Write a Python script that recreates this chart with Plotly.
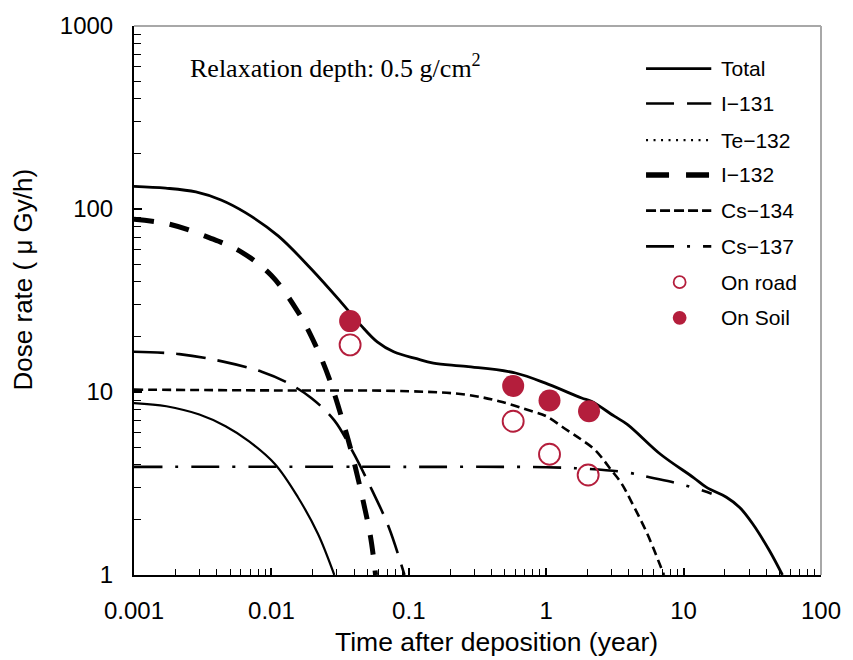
import plotly.graph_objects as go

# ---------------- data ----------------
total_x = [0.001, 0.0017, 0.00282, 0.0043, 0.00647, 0.0112, 0.0195, 0.0321, 0.0447, 0.0589, 0.0776,
           0.114, 0.151, 0.261, 0.598, 1.04, 1.81, 2.13, 3.13, 3.91, 6.79, 11.8, 14.7, 20.5, 25.6,
           31.9, 42.1, 52.4]
total_y = [133, 130, 124, 112, 95.5, 71.3, 47, 31, 23.2, 18.8, 16.6,
           15.2, 14.4, 13.8, 12.7, 11.0, 9.27, 8.9, 7.38, 6.64, 4.57, 3.41, 3.01, 2.66, 2.34,
           1.90, 1.36, 1.0]

i131_x = [0.001, 0.00214, 0.00438, 0.0085, 0.0132, 0.0195, 0.0287, 0.0389, 0.0542, 0.0714, 0.093]
i131_y = [16.6, 16.1, 14.7, 12.9, 11.2, 9.27, 7.0, 4.75, 2.89, 1.83, 1.0]

te132_x = [0.001, 0.00172, 0.00299, 0.00464, 0.00684, 0.01064, 0.0156, 0.0218, 0.0287]
te132_y = [8.7, 8.36, 7.53, 6.5, 5.39, 4.03, 2.66, 1.68, 1.0]

i132_x = [0.001, 0.00182, 0.00352, 0.0061, 0.01, 0.0156, 0.0208, 0.0264, 0.0339, 0.0389, 0.0459,
          0.0527, 0.0573]
i132_y = [88, 82.5, 69.8, 58, 43.3, 27.4, 18.2, 11.8, 6.5, 4.48, 2.66, 1.61, 1.0]

cs134_x = [0.001, 0.01, 0.1, 0.261, 0.454, 0.789, 1.0, 1.37, 1.8, 2.25, 2.65, 2.97, 3.5, 4.13,
           5.44, 6.98, 7.2]
cs134_y = [10.3, 10.2, 10.1, 9.67, 8.9, 7.85, 7.38, 6.3, 5.5, 4.85, 4.2, 3.75, 3.2, 2.55,
           1.68, 1.06, 1.0]

cs137_x = [0.001, 0.1, 1, 2.0, 3.91, 5.75, 9.46, 13.9, 16]
cs137_y = [3.9, 3.9, 3.88, 3.8, 3.63, 3.41, 3.14, 2.89, 2.78]

road_x = [0.0374, 0.575, 1.057, 2.02]
road_y = [18.1, 6.92, 4.57, 3.52]

soil_x = [0.0374, 0.575, 1.057, 2.05]
soil_y = [24.4, 10.8, 8.98, 7.85]

x_ticks = [0.001, 0.01, 0.1, 1, 10, 100]
x_ticktext = ["0.001", "0.01", "0.1", "1", "10", "100"]
y_ticks = [1, 10, 100, 1000]
y_ticktext = ["1", "10", "100", "1000"]

legend_names = ["Total", "I\u2212131", "Te\u2212132", "I\u2212132", "Cs\u2212134", "Cs\u2212137",
                "On road", "On Soil"]

# ---------------- styling ----------------
RED = "#B41E3C"
W, H = 853, 660
L, R, T, B = 134, 24, 22, 85
PW, PH = W - L - R, H - T - B
SANS = "Liberation Sans, Arial, sans-serif"
SERIF = "Liberation Serif, Times New Roman, serif"


def px(xp):
    return (xp - L) / PW


def py(yp):
    return (H - B - yp) / PH


fig = go.Figure()

line_specs = [
    (total_x, total_y, dict(color="black", width=2.8)),
    (i131_x, i131_y, dict(color="black", width=2.6, dash="30px,12px")),
    (te132_x, te132_y, dict(color="black", width=2.2)),
    (i132_x, i132_y, dict(color="black", width=5, dash="20px,16px")),
    (cs134_x, cs134_y, dict(color="black", width=2.6, dash="9px,5px")),
    (cs137_x, cs137_y, dict(color="black", width=2.6, dash="28px,13px,3px,13px")),
]
for (xs, ys, ln), name in zip(line_specs, legend_names):
    fig.add_trace(go.Scatter(x=xs, y=ys, mode="lines", name=name,
                             line=dict(shape="spline", smoothing=1.0, **ln), showlegend=False))

fig.add_trace(go.Scatter(x=road_x, y=road_y, mode="markers", name="On road", showlegend=False,
                         marker=dict(symbol="circle-open", size=21, color=RED,
                                     line=dict(width=1.9, color=RED))))
fig.add_trace(go.Scatter(x=soil_x, y=soil_y, mode="markers", name="On Soil", showlegend=False,
                         marker=dict(symbol="circle", size=22, color=RED)))

# minor tick positions
x_minor = [m * 10.0 ** e for e in range(-3, 2) for m in range(2, 10)]
y_minor = [m * 10.0 ** e for e in range(0, 3) for m in range(2, 10)]

fig.update_xaxes(type="log", range=[-3, 2], tickmode="array", tickvals=x_ticks, ticktext=x_ticktext,
                 showgrid=False, zeroline=False, showline=True, linecolor="black", linewidth=2,
                 ticks="inside", ticklen=7, tickwidth=1.6, tickcolor="black",
                 tickfont=dict(family=SANS, size=24, color="black"), ticklabelstandoff=13,
                 minor=dict(tickmode="array", tickvals=x_minor, ticks="inside", ticklen=6,
                            tickwidth=1.4, tickcolor="black", showgrid=False))
fig.update_yaxes(type="log", range=[0, 3], tickmode="array", tickvals=y_ticks, ticktext=y_ticktext,
                 showgrid=False, zeroline=False, showline=True, linecolor="black", linewidth=2,
                 ticks="inside", ticklen=8, tickwidth=1.6, tickcolor="black",
                 tickfont=dict(family=SANS, size=24, color="black"), ticklabelstandoff=14,
                 minor=dict(tickmode="array", tickvals=y_minor, ticks="inside", ticklen=7,
                            tickwidth=1.4, tickcolor="black", showgrid=False))

shapes = [
    dict(type="line", xref="paper", yref="paper", x0=0, x1=1, y0=1, y1=1,
         line=dict(color="#A8A8A8", width=2)),
    dict(type="line", xref="paper", yref="paper", x0=1, x1=1, y0=0, y1=1,
         line=dict(color="#A8A8A8", width=2)),
]

legend_rows = [65, 100, 137, 172, 208, 244, 280, 316]
legend_lines = [
    dict(color="black", width=2.8),
    dict(color="black", width=2.6, dash="28px,13px"),
    dict(color="black", width=2.4, dash="2px,5.5px"),
    dict(color="black", width=5.5, dash="23px,17px"),
    dict(color="black", width=2.6, dash="10px,4px"),
    dict(color="black", width=2.6, dash="28px,13px,3px,13px"),
]
for yrow, ln in zip(legend_rows[:6], legend_lines):
    shapes.append(dict(type="line", xref="paper", yref="paper", x0=px(652), x1=px(718),
                       y0=py(yrow), y1=py(yrow), line=ln))
for yrow, filled in zip(legend_rows[6:], [False, True]):
    shapes.append(dict(type="circle", xref="paper", yref="paper", xsizemode="pixel", ysizemode="pixel",
                       xanchor=px(686), yanchor=py(yrow), x0=-6, x1=6, y0=-6, y1=6,
                       fillcolor=RED if filled else "white", line=dict(color=RED, width=1.8)))

annotations = []
for yrow, name in zip(legend_rows, legend_names):
    annotations.append(dict(x=px(726), y=py(yrow), xref="paper", yref="paper", text=name,
                            showarrow=False, xanchor="left", yanchor="middle",
                            font=dict(family=SANS, size=21, color="black")))

annotations.append(dict(x=px(189), y=py(63), xref="paper", yref="paper",
                        text="Relaxation depth: 0.5 g/cm<sup>2</sup>", showarrow=False,
                        xanchor="left", yanchor="middle", font=dict(family=SERIF, size=26, color="black")))
annotations.append(dict(x=px(501), y=py(642), xref="paper", yref="paper",
                        text="Time after deposition (year)", showarrow=False,
                        xanchor="center", yanchor="middle", font=dict(family=SANS, size=26.5, color="black")))
annotations.append(dict(x=px(22), y=py(277), xref="paper", yref="paper",
                        text="Dose rate ( \u03bc Gy/h)", showarrow=False, textangle=-90,
                        xanchor="center", yanchor="middle", font=dict(family=SANS, size=26, color="black")))

fig.update_layout(width=W, height=H, margin=dict(l=L, r=R, t=T, b=B, pad=0),
                  paper_bgcolor="white", plot_bgcolor="white", showlegend=False,
                  shapes=shapes, annotations=annotations)

fig.write_html("out.html")
